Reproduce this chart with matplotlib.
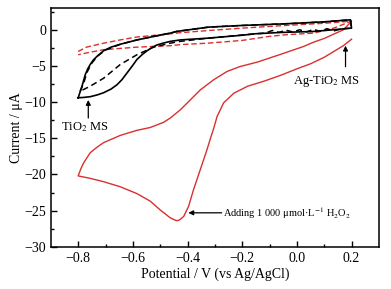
import matplotlib.pyplot as plt

plt.rcParams['font.family'] = ['Liberation Serif', 'DejaVu Serif']
plt.rcParams['mathtext.fontset'] = 'stix'

# TiO2 MS, solid black (forward then reverse scan)
tio2_v = [-0.80, -0.793, -0.786, -0.774, -0.765, -0.756, -0.745, -0.732, -0.707, -0.68,
          -0.646, -0.585, -0.524, -0.463, -0.44, -0.323, -0.20, -0.042, 0.10, 0.196,
          0.20, 0.062, -0.06, -0.152, -0.20, -0.323, -0.426, -0.463, -0.49, -0.512,
          -0.53, -0.548, -0.565, -0.585, -0.60, -0.622, -0.64, -0.658, -0.68, -0.707,
          -0.73, -0.756, -0.78, -0.80]
tio2_i = [-9.4, -8.6, -7.8, -6.2, -5.4, -4.8, -4.2, -3.7, -2.9, -2.4,
          -2.0, -1.4, -0.92, -0.46, -0.23, 0.37, 0.6, 0.83, 1.1, 1.38,
          0.23, -0.23, -0.37, -0.55, -0.75, -1.15, -1.4, -1.6, -1.85, -2.1,
          -2.45, -2.9, -3.4, -4.1, -4.9, -6.0, -6.9, -7.6, -8.2, -8.7,
          -9.0, -9.25, -9.35, -9.4]

# TiO2 MS, dashed black
tio2d_v = [-0.793, -0.787, -0.78, -0.768, -0.75, -0.728, -0.70, -0.646, -0.585, -0.524,
           -0.463, -0.44, -0.323, -0.20, -0.042, 0.10, 0.196,
           0.20, 0.16, 0.135, 0.11, 0.085, 0.06, 0.035, 0.01, -0.015, -0.04, -0.065,
           -0.09, -0.115, -0.15, -0.323, -0.426, -0.463, -0.524, -0.585, -0.646,
           -0.707, -0.756, -0.793]
tio2d_i = [-8.5, -8.0, -7.4, -5.9, -4.6, -3.6, -2.8, -2.0, -1.4, -0.92,
           -0.46, -0.23, 0.37, 0.6, 0.83, 1.1, 1.38,
           0.25, 0.1, -0.15, 0.15, -0.2, 0.05, -0.3, 0.0, -0.3, -0.05, -0.35,
           -0.1, -0.45, -0.55, -1.15, -1.6, -1.85, -2.4, -3.45, -4.8,
           -6.7, -7.8, -8.5]

# Ag-TiO2 MS, dashed red
ag_v = [-0.80, -0.77, -0.707, -0.646, -0.585, -0.463, -0.426, -0.323, -0.20, -0.042,
        0.10, 0.20,
        0.135, 0.062, -0.042, -0.103, -0.20, -0.323, -0.426, -0.463, -0.585, -0.707,
        -0.756, -0.80]
ag_i = [-3.0, -2.4, -1.85, -1.4, -1.0, -0.55, -0.4, -0.1, 0.23, 0.6,
        0.9, 1.2,
        0.23, -0.46, -0.69, -0.92, -1.47, -1.84, -2.05, -2.2, -2.4, -2.75,
        -3.1, -3.45]

# Ag-TiO2 MS after adding H2O2, solid red
h2o2_v = [0.20, 0.17, 0.135, 0.10, 0.05, 0.0, -0.06, -0.12, -0.18, -0.23,
          -0.268, -0.292, -0.304, -0.316, -0.329, -0.353, -0.378, -0.396, -0.414, -0.43,
          -0.44, -0.463, -0.50, -0.536, -0.585, -0.646, -0.707, -0.76, -0.80,
          -0.79, -0.78, -0.756, -0.73, -0.707, -0.646, -0.585, -0.536, -0.488, -0.463,
          -0.426, -0.39, -0.353, -0.304, -0.255, -0.207, -0.145, -0.06, 0.025, 0.062,
          0.10, 0.135, 0.17, 0.196]
h2o2_i = [-1.3, -2.2, -3.0, -3.8, -4.7, -5.4, -6.3, -7.1, -7.8, -8.75,
          -10.1, -12.0, -13.6, -15.0, -16.6, -19.3, -22.1, -24.4, -25.8, -26.3,
          -26.4, -26.0, -24.9, -23.7, -22.65, -21.7, -21.0, -20.5, -20.2,
          -19.2, -18.4, -17.0, -16.2, -15.6, -14.6, -13.9, -13.5, -12.8, -12.2,
          -11.05, -9.7, -8.3, -6.9, -5.75, -5.07, -4.47, -3.4, -2.3, -1.7,
          -1.2, -0.6, 0.0, 1.0]

red = '#d8302e'

fig, ax = plt.subplots(figsize=(3.91, 2.89), dpi=100)
fig.subplots_adjust(left=0.130, right=0.969, bottom=0.146, top=0.972)

ax.plot(h2o2_v, h2o2_i, color=red, lw=1.0)
ax.plot(ag_v, ag_i, color=red, lw=1.0, ls=(0, (4, 2)))
ax.plot(tio2d_v, tio2d_i, color='k', lw=1.1, ls=(0, (4, 2.5)))
ax.plot(tio2_v, tio2_i, color='k', lw=1.2)

ax.set_xlim(-0.9, 0.3)
ax.set_ylim(-30, 3)
ax.set_xticks([-0.8, -0.6, -0.4, -0.2, 0.0, 0.2])
ax.set_xticklabels(['\u22120.8', '\u22120.6', '\u22120.4', '\u22120.2', '0.0', '0.2'])
ax.set_xticks([-0.7, -0.5, -0.3, -0.1, 0.1], minor=True)
ax.set_yticks([0, -5, -10, -15, -20, -25, -30])
ax.set_yticklabels(['0', '\u22125', '\u221210', '\u221215', '\u221220', '\u221225', '\u221230'])
ax.set_yticks([2.5, -2.5, -7.5, -12.5, -17.5, -22.5, -27.5], minor=True)
ax.tick_params(which='both', direction='in', labelsize=10, width=1.0)
ax.tick_params(which='major', length=4)
ax.tick_params(which='minor', length=2.5)
for s in ax.spines.values():
    s.set_linewidth(1.1)

ax.set_xlabel('Potential / V (vs Ag/AgCl)', fontsize=10, labelpad=2)
ax.set_ylabel('Current / \u03bcA', fontsize=10, labelpad=1)

arrow = dict(arrowstyle='-|>', color='k', lw=0.9, mutation_scale=7, shrinkA=0, shrinkB=0)
ax.annotate('', xy=(-0.763, -9.7), xytext=(-0.763, -12.2), arrowprops=arrow)
ax.text(-0.775, -13.4, 'TiO$_2$ MS', fontsize=9, ha='center', va='center')

ax.annotate('', xy=(0.178, -2.2), xytext=(0.178, -5.1), arrowprops=arrow)
ax.text(0.108, -7.2, 'Ag-TiO$_2$ MS', fontsize=9, ha='center', va='center')

ax.annotate('', xy=(-0.397, -25.3), xytext=(-0.275, -25.3), arrowprops=arrow)
ax.text(-0.272, -25.3, 'Adding 1 000 \u03bcmol\u00b7L$^{-1}$ H$_2$O$_2$', fontsize=7.5,
        ha='left', va='center')

fig.savefig('out.png', dpi=100)
